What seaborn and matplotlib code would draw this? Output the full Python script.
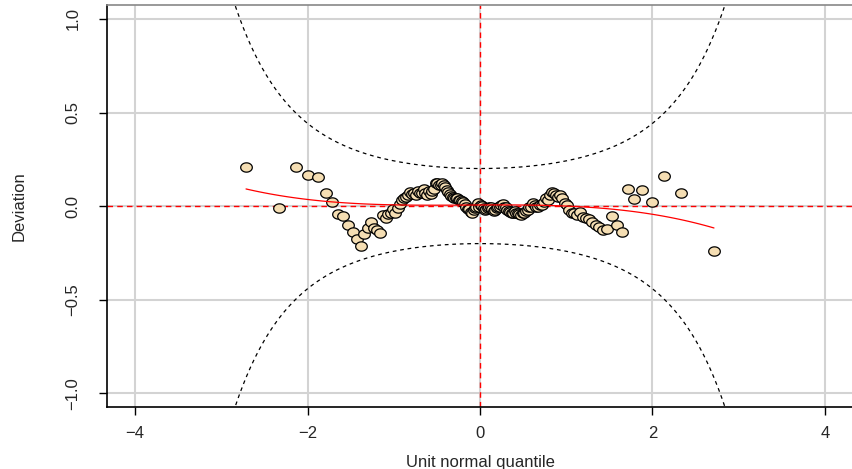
import numpy as np
import pandas as pd
import matplotlib
matplotlib.use("Agg")
import matplotlib.pyplot as plt
from matplotlib.path import Path
import seaborn as sns
from statistics import NormalDist

# unit normal quantiles (x) of the 150 ordered residuals
quantile_x = [
    -2.713, -2.326, -2.128, -1.989, -1.881, -1.791, -1.713, -1.645, -1.583, -1.528,
    -1.476, -1.428, -1.383, -1.341, -1.301, -1.263, -1.227, -1.192, -1.159, -1.126,
    -1.095, -1.065, -1.036, -1.008, -0.981, -0.954, -0.928, -0.903, -0.878, -0.854,
    -0.830, -0.806, -0.783, -0.761, -0.739, -0.717, -0.695, -0.674, -0.654, -0.633,
    -0.613, -0.593, -0.573, -0.553, -0.534, -0.515, -0.496, -0.477, -0.458, -0.440,
    -0.421, -0.403, -0.385, -0.367, -0.349, -0.332, -0.314, -0.297, -0.279, -0.262,
    -0.245, -0.228, -0.210, -0.193, -0.176, -0.160, -0.143, -0.126, -0.109, -0.092,
    -0.075, -0.059, -0.042, -0.025, -0.008,
    0.008, 0.025, 0.042, 0.059, 0.075, 0.092, 0.109, 0.126, 0.143, 0.160,
    0.176, 0.193, 0.210, 0.228, 0.245, 0.262, 0.279, 0.297, 0.314, 0.332,
    0.349, 0.367, 0.385, 0.403, 0.421, 0.440, 0.458, 0.477, 0.496, 0.515,
    0.534, 0.553, 0.573, 0.593, 0.613, 0.633, 0.654, 0.674, 0.695, 0.717,
    0.739, 0.761, 0.783, 0.806, 0.830, 0.854, 0.878, 0.903, 0.928, 0.954,
    0.981, 1.008, 1.036, 1.065, 1.095, 1.126, 1.159, 1.192, 1.227, 1.263,
    1.301, 1.341, 1.383, 1.428, 1.476, 1.528, 1.583, 1.645, 1.713, 1.791,
    1.881, 1.989, 2.128, 2.326, 2.713,
]

# deviations
deviation = [
    0.207, -0.012, 0.209, 0.166, 0.155, 0.070, 0.022, -0.045, -0.054, -0.103,
    -0.139, -0.178, -0.214, -0.148, -0.119, -0.087, -0.116, -0.130, -0.146, -0.048,
    -0.066, -0.045, -0.036, -0.016, -0.039, -0.012, 0.011, 0.030, 0.041, 0.050,
    0.060, 0.077, 0.064, 0.070, 0.059, 0.080, 0.068, 0.071, 0.089, 0.068,
    0.057, 0.080, 0.062, 0.082, 0.090, 0.121, 0.121, 0.115, 0.112, 0.121,
    0.110, 0.103, 0.086, 0.075, 0.063, 0.055, 0.050, 0.045, 0.041, 0.041,
    0.035, 0.032, 0.025, 0.020, 0.010, -0.004, -0.015, -0.018, -0.030, -0.039,
    -0.021, -0.010, -0.004, 0.014, -0.004,
    0.005, 0.000, -0.010, -0.021, -0.015, -0.010, -0.004, -0.004, -0.015, -0.025,
    -0.020, -0.010, -0.004, -0.004, 0.005, 0.011, -0.004, -0.007, -0.021, -0.025,
    -0.030, -0.039, -0.035, -0.027, -0.039, -0.039, -0.045, -0.048, -0.039, -0.039,
    -0.025, -0.021, -0.007, -0.004, 0.014, 0.005, -0.004, -0.004, 0.005, 0.005,
    0.023, 0.041, 0.032, 0.059, 0.077, 0.068, 0.059, 0.050, 0.059, 0.041,
    0.014, 0.005, -0.021, -0.036, -0.039, -0.048, -0.030, -0.057, -0.066, -0.071,
    -0.084, -0.102, -0.111, -0.128, -0.125, -0.053, -0.100, -0.137, 0.091, 0.039,
    0.087, 0.021, 0.162, 0.068, -0.241,
]

n_obs = len(deviation)
level = 0.95
x_ticks = [-4, -2, 0, 2, 4]
x_tick_labels = ["\u22124", "\u22122", "0", "2", "4"]
y_ticks = [-1.0, -0.5, 0.0, 0.5, 1.0]
y_tick_labels = ["\u22121.0", "\u22120.5", "0.0", "0.5", "1.0"]

df = pd.DataFrame({"x": quantile_x, "y": deviation})

sns.set_style("white")
plt.rcParams["font.family"] = ["Liberation Sans", "DejaVu Sans"]

fig = plt.figure(figsize=(8.53, 4.69), dpi=100)
ax = fig.add_axes([107 / 853, 1 - 407 / 469, 1 - 107 / 853, (407 - 5.5) / 469])

xlim = (-4.325, 4.325)
ylim = (-1.074, 1.072)

# grid
for xv in x_ticks:
    ax.axvline(xv, color="#d3d3d3", lw=1.5, zorder=0)
for yv in y_ticks:
    ax.axhline(yv, color="#d3d3d3", lw=1.5, zorder=0)

# confidence bands of the worm plot
nd = NormalDist()
grid = np.linspace(xlim[0], xlim[1], 1000)
p = np.array([nd.cdf(g) for g in grid])
dens = np.array([nd.pdf(g) for g in grid])
se = np.sqrt(p * (1 - p) / n_obs) / dens
high = -nd.inv_cdf((1 - level) / 2) * se
ax.plot(grid, high, color="black", lw=0.9, ls=(0, (3, 3)), zorder=1)
ax.plot(grid, -high, color="black", lw=0.9, ls=(0, (3, 3)), zorder=1)

# reference lines
ax.axhline(0, color="red", lw=1.0, ls=(0, (4, 3)), zorder=2)
ax.axvline(0, color="red", lw=1.0, ls=(0, (4, 3)), zorder=2)

# points
theta = np.linspace(0, 2 * np.pi, 60)
ell = Path(np.column_stack([np.cos(theta), 0.8 * np.sin(theta)]), closed=True)
sns.scatterplot(data=df, x="x", y="y", ax=ax, marker=ell, s=70,
                color="#f5deb3", edgecolor="black", linewidth=0.9, zorder=3)

# cubic fit
sns.regplot(data=df, x="x", y="y", ax=ax, order=3, scatter=False, ci=None,
            line_kws={"color": "red", "lw": 0.9, "zorder": 4})

ax.set_xlim(*xlim)
ax.set_ylim(*ylim)
ax.set_xticks(x_ticks)
ax.set_xticklabels(x_tick_labels, fontsize=12)
ax.set_yticks(y_ticks)
ax.set_yticklabels(y_tick_labels, fontsize=12, rotation=90, va="center")
ax.tick_params(axis="both", direction="out", length=6, width=1.0, color="black",
               bottom=True, left=True)
ax.tick_params(axis="x", pad=8)
ax.tick_params(axis="y", pad=13)
ax.set_xlabel("Unit normal quantile", fontsize=12, labelpad=10)
ax.set_ylabel("Deviation", fontsize=12, labelpad=28)

for side in ["left", "bottom"]:
    ax.spines[side].set_color("black")
    ax.spines[side].set_linewidth(1.2)
ax.spines["top"].set_color("#888888")
ax.spines["top"].set_linewidth(1.2)
ax.spines["right"].set_visible(False)

fig.savefig("out.png", dpi=100)
